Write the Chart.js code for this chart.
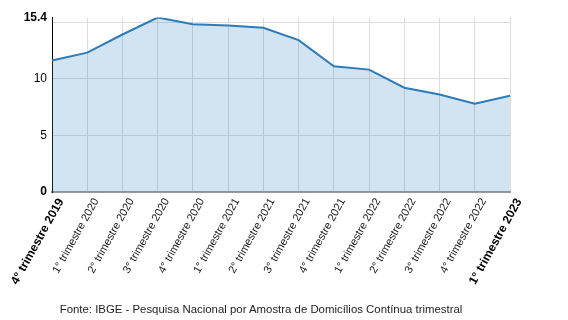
<!DOCTYPE html>
<html>
<head>
<meta charset="utf-8">
<script src="https://cdn.jsdelivr.net/npm/chart.js@4/dist/chart.umd.min.js"></script>
<style>
  body { margin: 0; background: #fff; }
  #wrap { position: relative; width: 568px; height: 320px; }
  #fonte {
    position: absolute; left: 0; top: 303px; width: 522px; text-align: center;
    font: 11.4px "Liberation Sans", Arial, sans-serif; color: #222;
  }
</style>
</head>
<body>
<div id="wrap">
  <canvas id="grafico" width="568" height="320"></canvas>
  <div id="fonte">Fonte: IBGE - Pesquisa Nacional por Amostra de Domicílios Contínua trimestral</div>
</div>
<script>
// trimestres
const trimestres = [
    '4° trimestre 2019', '1° trimestre 2020', '2° trimestre 2020', '3° trimestre 2020',
    '4° trimestre 2020', '1° trimestre 2021', '2° trimestre 2021', '3° trimestre 2021',
    '4° trimestre 2021', '1° trimestre 2022', '2° trimestre 2022', '3° trimestre 2022',
    '4° trimestre 2022', '1° trimestre 2023'
];
// taxa (%)
const taxa = [11.6, 12.3, 13.9, 15.4, 14.8, 14.7, 14.5, 13.4, 11.1, 10.8, 9.2, 8.6, 7.8, 8.5];
// marcas do eixo y
const marcasY = [0, 5, 10, 15, 15.4];

const fonte = '"Liberation Sans", Arial, sans-serif';
const ultimo = trimestres.length - 1;
const destaque = (i) => i === 0 || i === ultimo;

const ctx = document.getElementById('grafico').getContext('2d');

new Chart(ctx, {
    type: 'line',
    data: {
        labels: trimestres,
        datasets: [{
            data: taxa,
            borderColor: '#2c7bbb',
            backgroundColor: 'rgba(60, 135, 195, 0.23)',
            borderWidth: 2,
            pointRadius: 0,
            tension: 0,
            fill: 'origin'
        }]
    },
    options: {
        responsive: false,
        animation: false,
        layout: { padding: { top: 17.5, right: 58, left: 0, bottom: 0 } },
        plugins: {
            legend: { display: false },
            tooltip: { enabled: false }
        },
        scales: {
            x: {
                grid: { color: '#dcdcdc', drawTicks: false },
                border: { color: '#999', width: 2 },
                afterFit: (scale) => { scale.height = 128; },
                ticks: {
                    autoSkip: false,
                    maxRotation: 61,
                    minRotation: 61,
                    padding: 4,
                    labelOffset: 9,
                    color: (c) => destaque(c.index) ? '#000' : '#1a1a1a',
                    font: (c) => ({
                        family: fonte,
                        size: destaque(c.index) ? 12 : 11,
                        weight: destaque(c.index) ? 'bold' : 'normal'
                    })
                }
            },
            y: {
                min: 0,
                max: 15.4,
                afterFit: (scale) => { scale.width = 52; },
                afterBuildTicks: (scale) => { scale.ticks = marcasY.map(v => ({ value: v })); },
                grid: {
                    drawTicks: false,
                    color: (c) => (c.tick && c.tick.value === 15.4) ? 'rgba(0,0,0,0)' : '#dcdcdc'
                },
                border: { color: '#000', width: 1 },
                ticks: {
                    padding: 5,
                    color: '#000',
                    callback: (v) => v === 15 ? '' : String(v),
                    font: (c) => ({
                        family: fonte, size: 12,
                        weight: (c.tick && (c.tick.value === 0 || c.tick.value === 15.4)) ? 'bold' : 'normal'
                    })
                }
            }
        }
    }
});
</script>
</body>
</html>
